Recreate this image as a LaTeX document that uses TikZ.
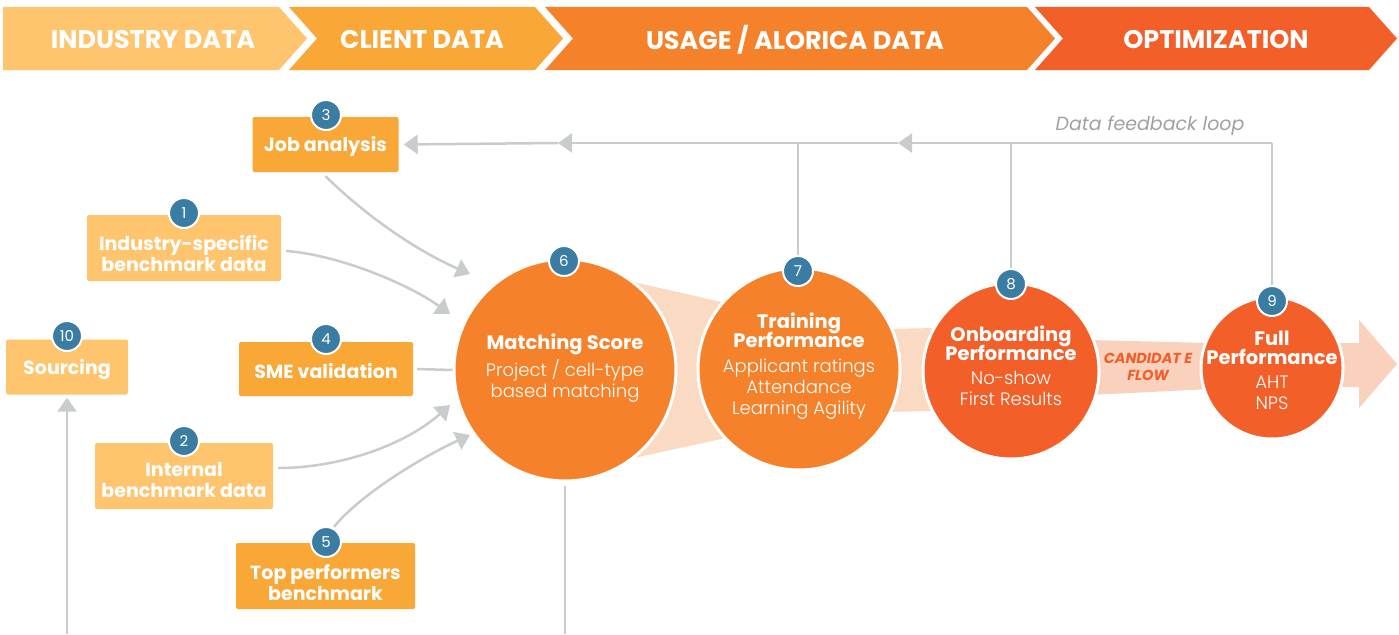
\documentclass[tikz,border=0pt]{standalone}
\usepackage{fontspec}
\setmainfont{Poppins}
\newfontfamily\lightfont{Poppins Light}
\usetikzlibrary{arrows.meta,calc}
\definecolor{seg1}{HTML}{FEC46E}
\definecolor{seg2}{HTML}{F9A736}
\definecolor{seg3}{HTML}{F5822A}
\definecolor{seg4}{HTML}{F25F29}
\definecolor{lorange}{HTML}{FEC46E}
\definecolor{dorange}{HTML}{F9A736}
\definecolor{badgeblue}{HTML}{3B7CA3}
\definecolor{lgray}{HTML}{C8CCCD}
\definecolor{tgray}{HTML}{9EA2A4}
\definecolor{peachA}{HTML}{FBDAC3}
\definecolor{peachB}{HTML}{F9D1BD}
\tikzset{
  gline/.style={draw=lgray, line width=2.5pt},
  garrow/.style={gline, -{Triangle[length=14pt,width=19pt]}},
  boxbase/.style={rounded corners=2pt, inner sep=0pt},
  lbox/.style={boxbase, fill=lorange},
  dbox/.style={boxbase, fill=dorange},
  boxtxt/.style={text=white, align=center, inner sep=0pt, font=\bfseries\fontsize{19}{21}\selectfont},
  badge/.style={circle, fill=badgeblue, draw=white, line width=2pt, minimum size=30pt,
    inner sep=0pt, text=white, font=\fontsize{15}{15}\selectfont},
  bigc/.style={circle, draw=white, line width=3pt, inner sep=0pt},
  ctext/.style={text=white, align=center, inner sep=0pt, font=\fontsize{18}{21}\selectfont},
  hdr/.style={text=white, font=\bfseries\fontsize{25.5}{25.5}\selectfont, inner sep=0pt},
}
\newcommand{\bt}{\bfseries\fontsize{19.5}{21}\selectfont}
\newcommand{\lt}{\lightfont\fontsize{18}{21}\selectfont}
\begin{document}
\begin{tikzpicture}[x=1pt,y=-1pt]
\useasboundingbox[fill=white] (0,0) rectangle (1399,634);
% header chevrons
\fill[seg1] (3,7) -- (279,7) -- (307,38.5) -- (279,70) -- (3,70) -- cycle;
\fill[seg2] (289,7) -- (535,7) -- (563,38.5) -- (535,70) -- (289,70) -- (317,38.5) -- cycle;
\fill[seg3] (545,7) -- (1027,7) -- (1055,38.5) -- (1027,70) -- (545,70) -- (573,38.5) -- cycle;
\fill[seg4] (1035,7) -- (1369,7) -- (1397,38.5) -- (1369,70) -- (1035,70) -- (1063,38.5) -- cycle;
\node[hdr] (h1) at (153,40) {INDUSTRY DATA};
\node[hdr] (h2) at (422,40) {CLIENT DATA};
\node[hdr] (h3) at (795,40) {USAGE / ALORICA DATA};
\node[hdr] (h4) at (1216,40) {OPTIMIZATION};

% flow bands
\fill[peachA] (620,279) -- (735,305) -- (735,436) -- (620,461) -- cycle;
\fill[peachA] (885,329) -- (935,328) -- (935,411) -- (885,412) -- cycle;
\fill[peachB] (1090,340) -- (1210,343) -- (1210,389) -- (1090,395) -- cycle;
\fill[peachB] (1335,343) -- (1359,343) -- (1359,320) -- (1397,364) -- (1359,408) -- (1359,387) -- (1335,387) -- cycle;

% big circles
\node[bigc, fill=seg3, minimum size=222pt] (c6) at (565,370) {};
\node[bigc, fill=seg3, minimum size=202pt] (c7) at (799,369) {};
\node[bigc, fill=seg4, minimum size=176pt] (c8) at (1011,371) {};
\node[bigc, fill=seg4, minimum size=142pt] (c9) at (1272,368) {};

\node[ctext] (t6) at (565,368) {{\bt Matching Score}\\[3pt]{\lt Project / cell-type}\\{\lt based matching}};
\node[ctext] (t7) at (799,366) {{\bt Training}\\[-2pt]{\bt Performance}\\[4pt]{\lt Applicant ratings}\\{\lt Attendance}\\{\lt Learning Agility}};
\node[ctext] (t8) at (1011,366) {{\bt Onboarding}\\[-2pt]{\bt Performance}\\[3pt]{\lt No-show}\\{\lt First Results}};
\node[ctext] (t9) at (1272,370) {{\bt Full}\\[-2pt]{\bt Performance}\\[3pt]{\lt AHT}\\{\lt NPS}};

\node[text=seg4, align=center, inner sep=0pt, font=\bfseries\itshape\fontsize{14.5}{17}\selectfont] (cf) at (1148,367) {CANDIDAT E\\FLOW};

% boxes
\node[dbox, minimum width=146pt, minimum height=55pt] (job) at (325.5,144.5) {};
\node[lbox, minimum width=194pt, minimum height=66pt] (ind) at (184,248) {};
\node[lbox, minimum width=122pt, minimum height=55pt] (src) at (67,367) {};
\node[dbox, minimum width=174pt, minimum height=54pt] (sme) at (326,369) {};
\node[lbox, minimum width=178pt, minimum height=66pt] (int) at (184,476) {};
\node[dbox, minimum width=179pt, minimum height=66pt] (top) at (325.5,576) {};
\node[boxtxt] (jobt) at (325.5,146) {Job analysis};
\node[boxtxt] (indt) at (184,253) {Industry-specific\\benchmark data};
\node[boxtxt] (srct) at (67,369) {Sourcing};
\node[boxtxt] (smet) at (326,371) {SME validation};
\node[boxtxt] (intt) at (184,480) {Internal\\benchmark data};
\node[boxtxt] (topt) at (325.5,583) {Top performers\\benchmark};

% connectors into matching score
\draw[garrow] ($(job.south)+(0,4)$) .. controls (365,215) and (415,250) .. ($(c6)+(-95,-96)$);
\draw[garrow] ($(ind.east)+(5,3)$) .. controls (340,255) and (410,285) .. ($(c6)+(-115,-56)$);
\draw[gline] ($(sme.east)+(4,0)$) -- (c6.west);
\draw[garrow] ($(int.east)+(5,-8)$) .. controls (340,468) and (405,445) .. ($(c6)+(-115,35)$);
\draw[garrow] ($(top.north)+(8.5,-16)$) .. controls (360,495) and (420,458) .. ($(c6)+(-95,65)$);
\coordinate (bot6) at (565,634);
\draw[gline] ($(c6.south)+(0,3)$) -- (bot6);
\coordinate (botsrc) at (67,634);
\draw[garrow] (botsrc) -- ($(src.south)+(0,3)$);

% badges
\node[badge] (b3) at (326,115) {3};
\node[badge] (b1) at (184,213) {1};
\node[badge] (b10) at (67,336) {10};
\node[badge] (b4) at (326,339) {4};
\node[badge] (b2) at (184,441) {2};
\node[badge] (b5) at (326,542) {5};
\node[badge] (b6) at (564,261) {6};
\node[badge] (b7) at (798,271) {7};
\node[badge] (b8) at (1011,284) {8};
\node[badge] (b9) at (1272,301) {9};

% feedback loop
\coordinate (fb9) at (1272,143);
\coordinate (fbm1) at (898,143);
\coordinate (fbm2) at (558,143);
\draw[gline] (b9.north) -- (fb9);
\draw[garrow] (fb9) -- (fbm1);
\draw[garrow] (fbm1) -- (fbm2);
\draw[garrow] (fbm2) -- ($(job.east)+(5,0)$);
\draw[gline] (b8.north) -- (b8.north |- fb9);
\draw[gline] (b7.north) -- (b7.north |- fb9);
\node[text=tgray, inner sep=0pt, font=\itshape\fontsize{19}{19}\selectfont] (fbl) at (1150,126) {Data feedback loop};
\end{tikzpicture}
\end{document}
